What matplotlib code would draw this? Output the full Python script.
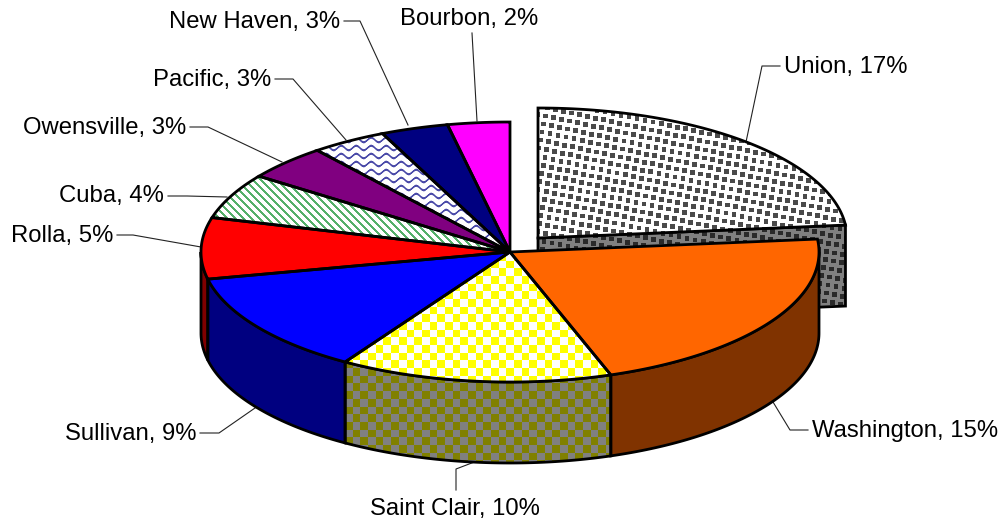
import numpy as np
import matplotlib
matplotlib.use("Agg")
import matplotlib.pyplot as plt
from matplotlib.colors import to_rgb
from matplotlib.patches import Polygon

plt.rcParams["font.family"] = ["Liberation Sans", "DejaVu Sans"]

names = ["Union", "Washington", "Saint Clair", "Sullivan", "Rolla",
         "Cuba", "Owensville", "Pacific", "New Haven", "Bourbon"]
shown_pct = [17, 15, 10, 9, 5, 4, 3, 3, 3, 2]
shares = [16.6, 15.1, 10.1, 9.0, 5.4, 4.0, 3.1, 2.8, 2.5, 2.3]

top_colors = ["dots", "#ff6600", "check_yellow", "#0000ff", "#ff0000",
              "stripes", "#800080", "waves", "#000080", "#ff00ff"]
side_colors = ["dots_dark", "#803300", "check_olive", "#000080", "#800000",
               None, None, None, None, None]

W, H = 1004, 524
CX, CY = 510, 252
RX, RY = 309, 130
DEPTH = 81
EXPLODE = (28, -14)

# label anchor, text anchor side, then leader line points
label_layout = [
    (784, 67, "left", [(746, 142), (762, 66), (780, 66)]),
    (812, 431, "left", [(773, 402), (790, 430), (808, 430)]),
    (455, 509, "center", [(477, 461), (456, 469), (456, 490)]),
    (197, 434, "right", [(255, 408), (219, 433), (200, 433)]),
    (113, 236, "right", [(201, 247), (133, 235), (117, 235)]),
    (164, 196, "right", [(227, 197), (187, 196), (168, 196)]),
    (186, 128, "right", [(282, 162), (208, 127), (190, 127)]),
    (271, 80, "right", [(346, 140), (293, 79), (275, 79)]),
    (340, 22, "right", [(408, 125), (360, 21), (344, 21)]),
    (538, 19, "right", [(477, 121), (472, 33)]),
]


def make_patterns():
    X, Y = np.meshgrid(np.arange(W) + 0.5, np.arange(H) + 0.5)
    p = 7.67

    def blend(mask, fg, bg):
        mask = mask[..., None]
        return mask * np.array(to_rgb(fg)) + (1 - mask) * np.array(to_rgb(bg))

    check = ((X // p + Y // p) % 2 == 0).astype(float)

    # dots sit on a slightly turned grid
    c, s = np.cos(np.radians(12)), np.sin(np.radians(12))
    step = 8.2
    i = np.round((X * c + Y * s) / step)
    j = np.round((-X * s + Y * c) / step)
    dot_x = step * (i * c - j * s)
    dot_y = step * (i * s + j * c)
    dot = ((np.abs(X - dot_x) < 2.4) & (np.abs(Y - dot_y) < 2.4)).astype(float)

    stripe = ((X - Y) % 8 < 2.6).astype(float)
    dist = np.abs((Y - 2.2 * np.sin(2 * np.pi * X / 15)) % 8 - 4)
    wave = np.clip(1.6 - dist, 0, 1)

    return {
        "dots": blend(dot, "#4a4a4a", "#ffffff"),
        "dots_dark": blend(dot, "#2a2a2a", "#808080"),
        "check_yellow": blend(check, "#ffff00", "#ffffff"),
        "check_olive": blend(check, "#808000", "#808080"),
        "stripes": blend(stripe, "#55b06a", "#ffffff"),
        "waves": blend(wave, "#4a4aa8", "#ffffff"),
    }


def rim(a0, a1, cx, cy):
    a = np.radians(np.linspace(a0, a1, 90))
    return np.column_stack([cx + RX * np.sin(a), cy - RY * np.cos(a)])


def draw_shape(ax, pts, fill, patterns, z):
    if fill in patterns:
        outline = Polygon(pts, closed=True, facecolor="none", edgecolor="none")
        ax.add_patch(outline)
        im = ax.imshow(patterns[fill], extent=(0, W, H, 0), aspect="auto",
                       interpolation="nearest", zorder=z)
        im.set_clip_path(outline)
    else:
        ax.add_patch(Polygon(pts, closed=True, facecolor=fill, edgecolor="none", zorder=z))
    ax.add_patch(Polygon(pts, closed=True, facecolor="none", edgecolor="black",
                         linewidth=2.0, joinstyle="miter", zorder=z + 0.5))


patterns = make_patterns()
fig = plt.figure(figsize=(W / 100, H / 100), dpi=100)
ax = fig.add_axes([0, 0, 1, 1])

for (tx, ty, ha, leader), name, pct in zip(label_layout, names, shown_pct):
    xs, ys = zip(*leader)
    ax.plot(xs, ys, color="#222222", linewidth=0.8, zorder=1)
    ax.text(tx, ty, f"{name}, {pct}%", ha=ha, va="center", fontsize=17.2, color="black")

angles = np.cumsum([0] + shares) / sum(shares) * 360

# the pulled out slice goes first, everything else sits in front of it
ux, uy = CX + EXPLODE[0], CY + EXPLODE[1]
end = rim(angles[0], angles[1], ux, uy)[-1]
face = [(ux, uy), tuple(end), (end[0], end[1] + DEPTH), (ux, uy + DEPTH)]
draw_shape(ax, face, side_colors[0], patterns, 2)
union_top = np.vstack([[ux, uy], rim(angles[0], angles[1], ux, uy)])
draw_shape(ax, union_top, top_colors[0], patterns, 3)

# front wall of the other slices
for i in range(1, len(shares)):
    a0, a1 = max(angles[i], 90), min(angles[i + 1], 270)
    if a0 >= a1:
        continue
    upper = rim(a0, a1, CX, CY)
    lower = upper[::-1] + [0, DEPTH]
    draw_shape(ax, np.vstack([upper, lower]), side_colors[i], patterns, 4)

# tops
for i in range(1, len(shares)):
    pts = np.vstack([[CX, CY], rim(angles[i], angles[i + 1], CX, CY)])
    draw_shape(ax, pts, top_colors[i], patterns, 5 + i * 0.01)

ax.set_xlim(0, W)
ax.set_ylim(H, 0)
ax.axis("off")
fig.savefig("out.png", dpi=100, facecolor="white")
